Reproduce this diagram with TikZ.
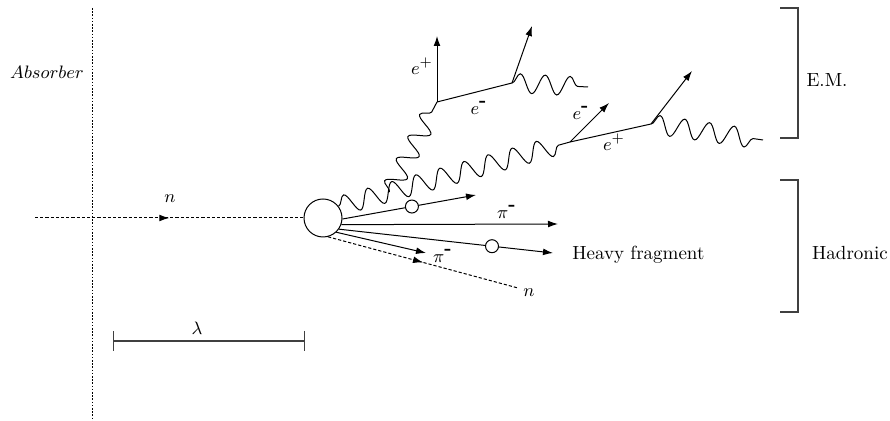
\documentclass[tikz,border=0pt]{standalone}
\usetikzlibrary{arrows.meta,calc,decorations.pathmorphing,decorations.markings}
\tikzset{track/.style={draw,line width=0.5pt,-{Latex[length=5pt,width=3.4pt]}},leg/.style={draw,line width=0.5pt},photon/.style={draw,line width=0.5pt,decorate,decoration={snake,segment length=12.5pt,amplitude=4.8pt}},neutron/.style={draw,line width=0.5pt,dash pattern=on 1.6pt off 1pt,postaction={decorate},decoration={markings,mark=at position 0.5 with {\arrow{Latex[length=5pt,width=3.4pt]}}}},absorber/.style={draw,line width=0.5pt,dash pattern=on 0.8pt off 0.8pt},nucleus/.style={circle,draw,line width=0.5pt,inner sep=0pt,minimum size=19pt},blob/.style={circle,draw,line width=0.5pt,fill=white,inner sep=0pt,minimum size=6.5pt},bracket/.style={draw=black!75,line width=0.6pt},lambdabar/.style={draw=black!75,line width=0.6pt,{Bar[width=10pt]}-{Bar[width=10pt]}}}
\begin{document}
\begin{tikzpicture}[x=0.5pt,y=-0.5pt,font=\fontsize{9.5pt}{11pt}\selectfont]
\useasboundingbox (0,0) rectangle (890,421);
% absorber and incoming neutron
\coordinate (absT) at (92,8);\coordinate (absB) at (92,421);\coordinate (nIn) at (35,218);
\draw[absorber] (absT)--(absB);
\node (absLab) at (47,72) {$Absorber$};
\node[nucleus] (nuc) at (323,218) {};
\draw[neutron] (nIn)--(nuc.west);
\node (nInLab) at (170,199) {$n$};
% electromagnetic shower
\coordinate (V1) at (437,102);\coordinate (A1) at (437,36);\coordinate (V2) at (512,83);\coordinate (A2) at (532,26);\coordinate (W2) at (588,87);
\coordinate (V3) at (570,142);\coordinate (A3) at (609,103);\coordinate (V4) at (651,124);\coordinate (A4) at (692,71);\coordinate (W4) at (763,140);
\coordinate (B) at ($(nuc.37)!0.22!(V3)$);
\draw[photon] (nuc.37)--(V3);\draw[photon] (B)--(V1);
\draw[track] (V1)--(A1);\draw[leg] (V1)--(V2);\draw[track] (V2)--(A2);\draw[photon] (V2)--(W2);
\draw[track] (V3)--(A3);\draw[leg] (V3)--(V4);\draw[track] (V4)--(A4);\draw[photon] (V4)--(W4);
\node (ep1) at (422,66) {$e^+$};\node (em1) at (479,108) {$e^{\textbf{-}}$};\node (em2) at (581,113) {$e^{\textbf{-}}$};\node (ep2) at (614,142) {$e^+$};
% hadronic part
\coordinate (H1) at (476,195);\coordinate (H2) at (558,224);\coordinate (H3) at (553,253);\coordinate (H4) at (426,253);\coordinate (N2) at (518,288);
\draw[track] (nuc.-3)--node[blob,pos=0.52] (p1) {} (H1);
\draw[track] (nuc.-20)--(H2);
\draw[track] (nuc.-35)--node[blob,pos=0.715] (p2) {} (H3);
\draw[track] (nuc.-47)--(H4);
\draw[neutron] (nuc.-75)--(N2);
\node (pi1) at (507,212) {$\pi^{\textbf{-}}$};\node (pi2) at (443,256) {$\pi^{\textbf{-}}$};\node (nOutLab) at (529,293) {$n$};
\node[anchor=west,inner sep=0pt] (heavy) at (572,255) {Heavy fragment};
% brackets and mean free path
\draw[bracket] (780,8)--(798,8)--(798,138)--(780,138);\node (emLab) at (827,80) {E.M.};
\draw[bracket] (780,180)--(798,180)--(798,312)--(780,312);\node (hadLab) at (850,253) {Hadronic};
\coordinate (lamL) at (113,341);\coordinate (lamR) at (305,341);
\draw[lambdabar] (lamL)--(lamR);\node (lamLab) at (197,328) {$\lambda$};
\end{tikzpicture}
\end{document}
